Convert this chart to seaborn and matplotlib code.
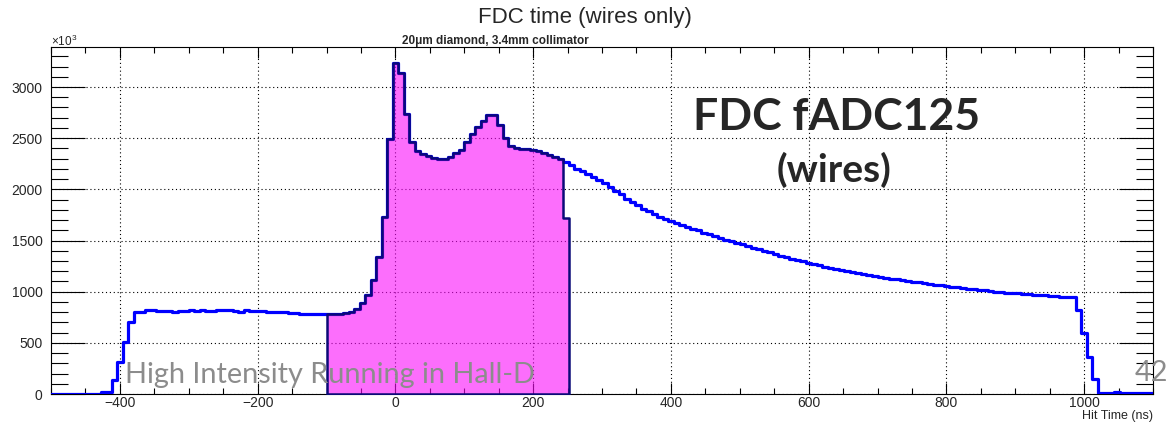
import numpy as np
import pandas as pd
import matplotlib
matplotlib.use("Agg")
import matplotlib.pyplot as plt
import seaborn as sns
from matplotlib.ticker import MultipleLocator

# FDC wire hit-time histogram, 8 ns bins from -500 ns to 1100 ns (counts in units of 10^3)
bin_width = 8
time_start = -500

hits_all = [
    0, 0, 0, 0, 0, 0, 0, 1, 4, 18,
    24, 137, 316, 511, 707, 800, 806, 818, 820, 815,
    810, 808, 806, 810, 815, 816, 814, 816, 815, 813,
    820, 821, 818, 808, 806, 816, 815, 812, 808, 806,
    805, 804, 800, 795, 787, 785, 784, 784, 783, 783,
    780, 782, 785, 792, 805, 830, 886, 968, 1115, 1343,
    1734, 2490, 3230, 3136, 2735, 2465, 2370, 2344, 2328, 2310,
    2298, 2295, 2315, 2352, 2388, 2465, 2538, 2605, 2672, 2729,
    2729, 2631, 2500, 2428, 2405, 2395, 2392, 2386, 2372, 2355,
    2338, 2318, 2300, 2272, 2235, 2200, 2175, 2150, 2122, 2092,
    2060, 2018, 1985, 1955, 1905, 1878, 1845, 1812, 1785, 1758,
    1730, 1712, 1692, 1672, 1652, 1635, 1615, 1598, 1578, 1560,
    1542, 1525, 1505, 1492, 1476, 1462, 1445, 1430, 1414, 1400,
    1385, 1368, 1353, 1338, 1322, 1310, 1297, 1284, 1272, 1260,
    1245, 1235, 1222, 1212, 1200, 1190, 1180, 1170, 1162, 1152,
    1145, 1136, 1128, 1120, 1113, 1104, 1097, 1090, 1083, 1076,
    1068, 1062, 1056, 1050, 1045, 1038, 1030, 1024, 1018, 1012,
    1006, 1000, 995, 991, 988, 985, 980, 976, 971, 967,
    963, 958, 955, 952, 948, 945, 825, 600, 365, 147,
    12, 7, 6, 22, 7, 6, 6, 5, 5, 5,
]

# hits inside the selected time window (-100 ns .. 252 ns)
window_start = -100
hits_window = [
    780, 782, 785, 792, 805, 830, 886, 968, 1115, 1343,
    1734, 2490, 3230, 3136, 2735, 2465, 2370, 2344, 2328, 2310,
    2298, 2295, 2315, 2352, 2388, 2465, 2538, 2605, 2672, 2729,
    2729, 2631, 2500, 2428, 2405, 2395, 2392, 2386, 2372, 2355,
    2338, 2318, 2300, 1718,
]

time_end = time_start + bin_width * len(hits_all)
window_end = window_start + bin_width * len(hits_window)
df_all = pd.DataFrame({"t": time_start + bin_width * (np.arange(len(hits_all)) + 0.5),
                       "n": hits_all})
df_win = pd.DataFrame({"t": window_start + bin_width * (np.arange(len(hits_window)) + 0.5),
                       "n": hits_window})

sns.set_style("ticks")
plt.rcParams["font.family"] = ["Liberation Sans", "DejaVu Sans"]
plt.rcParams["mathtext.fontset"] = "custom"
plt.rcParams["mathtext.rm"] = "Liberation Sans"

W, H = 1170, 422
fig = plt.figure(figsize=(W / 100, H / 100), dpi=100)
ax = fig.add_axes([51 / W, 28 / H, 1102 / W, 347 / H])

ax.grid(True, which="major", color="black", linestyle=(0, (1, 2.5)), linewidth=0.8)
ax.set_axisbelow(True)

sns.histplot(data=df_all, x="t", weights="n", binwidth=bin_width,
             binrange=(time_start, time_end), element="step",
             fill=False, color="#0000ff", linewidth=2.3, ax=ax, zorder=3)
sns.histplot(data=df_win, x="t", weights="n", binwidth=bin_width,
             binrange=(window_start, window_end), element="step",
             fill=True, facecolor=(0.98, 0.05, 0.98, 0.6), edgecolor="#0a0a78",
             linewidth=1.8, ax=ax, zorder=4)

ax.set_xlim(-500, 1100)
ax.set_ylim(0, 3391)
ax.xaxis.set_major_locator(MultipleLocator(200))
ax.xaxis.set_minor_locator(MultipleLocator(50))
ax.yaxis.set_major_locator(MultipleLocator(500))
ax.yaxis.set_minor_locator(MultipleLocator(100))
ax.tick_params(which="both", direction="in", top=True, right=True, color="black")
ax.tick_params(axis="y", which="major", length=24.5, width=0.8, labelsize=10, pad=6)
ax.tick_params(axis="y", which="minor", length=12.5, width=0.8)
ax.tick_params(axis="x", which="major", length=8, width=0.8, labelsize=10, pad=1.5)
ax.tick_params(axis="x", which="minor", length=4, width=0.8)
for s in ax.spines.values():
    s.set_color("black")
    s.set_linewidth(0.8)

ax.set_ylabel("")
ax.set_xlabel("")

fig.text(1153 / W, 0.5 / H, "Hit Time (ns)", ha="right", va="bottom", fontsize=9)
fig.text(0.5, 1 - 18 / H, "FDC time (wires only)", ha="center", va="center", fontsize=16)
fig.text(402 / W, 1 - 41 / H, "20\u03bcm diamond, 3.4mm collimator", ha="left",
         va="center", fontsize=8.5, fontweight="bold")
fig.text(51 / W, 1 - 41 / H, "\u00d710$^{3}$", ha="left", va="center", fontsize=8.5)

fig.text(837 / W, 1 - 117 / H, "FDC fADC125", ha="center", va="center",
         fontsize=32, fontweight="bold", family="Lato")
fig.text(834 / W, 1 - 170 / H, "(wires)", ha="center", va="center",
         fontsize=28, fontweight="bold", family="Lato")
fig.text(125 / W, 1 - 375 / H, "High Intensity Running in Hall-D", ha="left",
         va="center", fontsize=20.8, color="#8c8c8c", family="Lato", zorder=10)
fig.text(1168 / W, 1 - 373 / H, "42", ha="right", va="center", fontsize=20.8,
         color="#8c8c8c", family="Lato", zorder=10)

fig.savefig("out.png", dpi=100)
